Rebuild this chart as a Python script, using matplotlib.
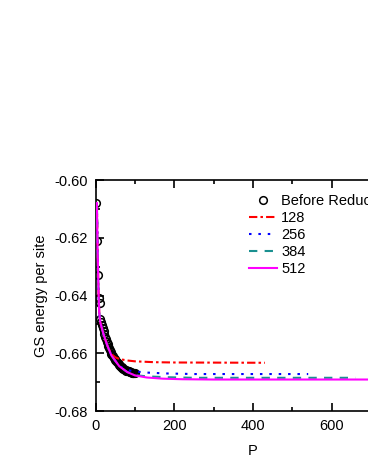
import matplotlib
matplotlib.use("Agg")
import matplotlib.pyplot as plt
from matplotlib.ticker import MultipleLocator

plt.rcParams['font.family'] = ['Liberation Sans', 'DejaVu Sans']

# "Before Reduction" data
P_before = [2, 4, 6, 8, 10, 12, 14, 16, 18, 20, 22, 24, 26, 28, 30, 32, 34, 36, 38, 40,
            42, 44, 46, 48, 50, 52, 54, 56, 58, 60, 62, 64, 66, 68, 70, 72, 74, 76, 78, 80,
            82, 84, 86, 88, 90, 92, 94, 96, 98, 100]
E_before = [-0.6078, -0.6212, -0.6328, -0.6410, -0.6426, -0.6480, -0.6492, -0.6503, -0.6514, -0.6524,
            -0.6534, -0.6543, -0.6552, -0.6560, -0.6568, -0.6575, -0.6582, -0.6589, -0.6595, -0.6601,
            -0.6606, -0.6611, -0.6616, -0.6620, -0.6624, -0.6628, -0.6632, -0.6635, -0.6638, -0.6641,
            -0.6644, -0.6646, -0.6649, -0.6651, -0.6653, -0.6655, -0.6657, -0.6658, -0.6660, -0.6661,
            -0.6662, -0.6663, -0.6664, -0.6665, -0.6666, -0.6667, -0.6667, -0.6668, -0.6668, -0.6669]

# truncated curves
P_128 = [3, 5, 7, 9, 12, 20, 30, 40, 50, 60, 80, 100, 150, 200, 430]
E_128 = [-0.608, -0.625, -0.638, -0.646, -0.6495, -0.6535, -0.6575, -0.6603, -0.6614, -0.6620,
         -0.6625, -0.6628, -0.6631, -0.6632, -0.6633]

P_256 = [3, 5, 7, 9, 12, 20, 30, 40, 60, 80, 100, 130, 180, 250, 540]
E_256 = [-0.608, -0.625, -0.638, -0.646, -0.6495, -0.6535, -0.6575, -0.6608, -0.6645, -0.6658,
         -0.6663, -0.6667, -0.6670, -0.6672, -0.6672]

P_384 = [3, 5, 7, 9, 12, 20, 30, 40, 60, 80, 100, 130, 180, 250, 660]
E_384 = [-0.608, -0.625, -0.638, -0.646, -0.6495, -0.6535, -0.6575, -0.6608, -0.6645, -0.6665,
         -0.6676, -0.6680, -0.6683, -0.6685, -0.6685]

P_512 = [3, 5, 7, 9, 12, 20, 30, 40, 60, 80, 100, 130, 170, 220, 300, 780]
E_512 = [-0.608, -0.625, -0.638, -0.646, -0.6495, -0.6535, -0.6575, -0.6608, -0.6645, -0.6665,
         -0.6677, -0.6684, -0.6688, -0.6690, -0.6691, -0.6691]

labels = ["Before Reduction", "128", "256", "384", "512"]

fig = plt.figure(figsize=(3.68, 4.76), dpi=100)
ax = fig.add_axes([95.7 / 368, 65 / 476, 314.8 / 368, 231 / 476])

ax.plot(P_before, E_before, linestyle='none', marker='o', markersize=5.5,
        markerfacecolor='none', markeredgecolor='black', markeredgewidth=1.1,
        label=labels[0], zorder=2)
ax.plot(P_128, E_128, color='#ff0000', lw=1.5, linestyle=(0, (4, 1.5, 1.2, 1.5)), label=labels[1], zorder=3)
ax.plot(P_256, E_256, color='#0000ff', lw=1.5, linestyle=(0, (1.2, 3.3)), label=labels[2], zorder=3)
ax.plot(P_384, E_384, color='#1a9090', lw=1.5, linestyle=(0, (4, 3.5)), label=labels[3], zorder=3)
ax.plot(P_512, E_512, color='#ff00ff', lw=1.5, linestyle='-', label=labels[4], zorder=4)

ax.set_xlim(0, 800)
ax.set_ylim(-0.68, -0.60)
ax.xaxis.set_major_locator(MultipleLocator(200))
ax.xaxis.set_minor_locator(MultipleLocator(100))
ax.yaxis.set_major_locator(MultipleLocator(0.02))
ax.yaxis.set_minor_locator(MultipleLocator(0.01))
ax.yaxis.set_major_formatter(matplotlib.ticker.FormatStrFormatter('%.2f'))

ax.tick_params(which='both', direction='in', top=True, right=True, width=1.2)
ax.tick_params(which='major', length=5.8, labelsize=10.5, pad=5.5)
ax.tick_params(which='minor', length=3.2)
for s in ax.spines.values():
    s.set_linewidth(1.2)

ax.set_xlabel('P', fontsize=10.5, labelpad=8.5)
ax.set_ylabel('GS energy per site', fontsize=10.5, labelpad=4.5)

leg = ax.legend(loc='upper left', bbox_to_anchor=(249 / 368, 1 - 194 / 476),
                bbox_transform=fig.transFigure, frameon=False, fontsize=10.5,
                handlelength=1.9, handletextpad=0.3, labelspacing=0.2,
                borderpad=0, borderaxespad=0)

fig.savefig('out.png', dpi=100)
